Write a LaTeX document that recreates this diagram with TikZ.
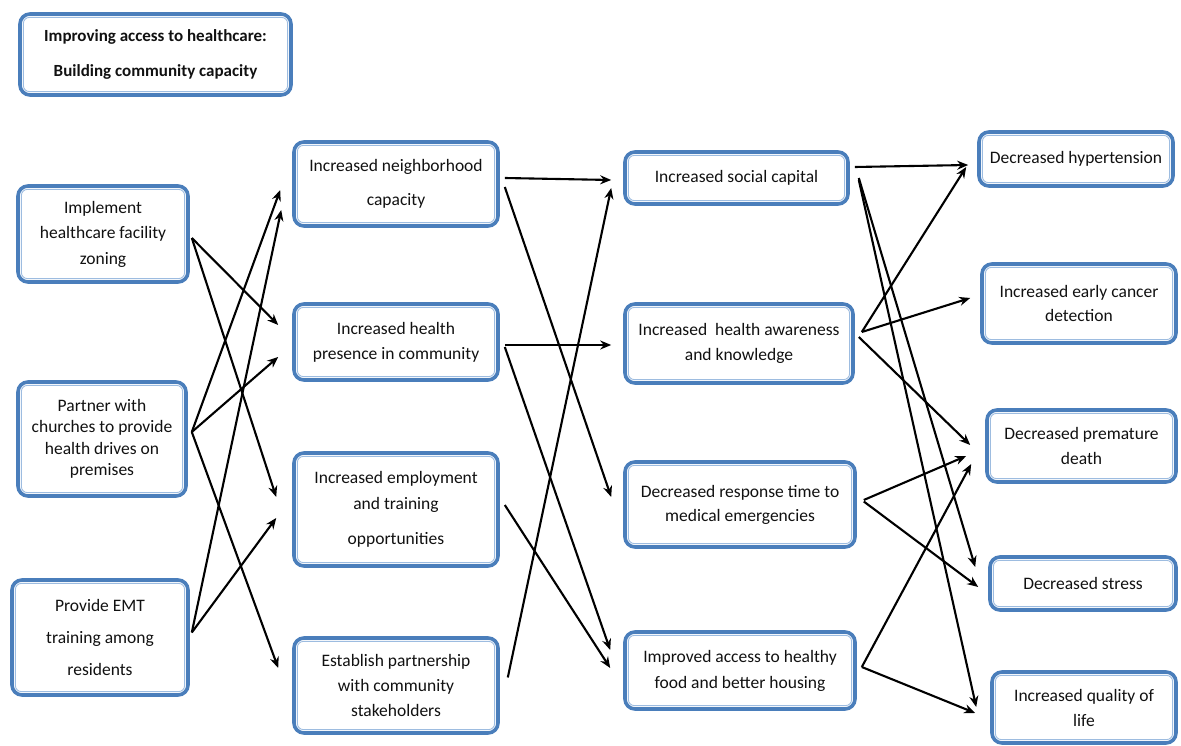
\documentclass[tikz,border=0pt]{standalone}
\usepackage{fontspec}
\setmainfont{Carlito}
\usetikzlibrary{arrows.meta,calc}
\definecolor{boxblue}{HTML}{4A7EBB}
\definecolor{innerblue}{HTML}{9DBCE0}
\definecolor{inktext}{HTML}{111111}
\tikzset{
  box/.style={draw=boxblue, line width=3.6pt, fill=white, rounded corners=10pt,
    align=center, text=inktext, inner sep=0pt,
    font=\fontsize{17.5}{25}\selectfont,
    path picture={\draw[innerblue, line width=0.9pt, rounded corners=6pt]
      ([shift={(3.4pt,3.4pt)}]path picture bounding box.south west) rectangle
      ([shift={(-3.4pt,-3.4pt)}]path picture bounding box.north east);}},
  arr/.style={-{Stealth[length=11pt,width=9pt]}, line width=2.1pt, black},
}
\begin{document}
\begin{tikzpicture}[x=1pt,y=-1pt]
\fill[white] (0,0) rectangle (1181,746);
\useasboundingbox (0,0) rectangle (1181,746);

% title
\node[box, minimum width=271pt, minimum height=81pt,
      font=\bfseries\fontsize{17}{35}\selectfont] (title) at (155.5,54.5)
  {Improving access to healthcare:\\Building community capacity};

% activities
\node[box, minimum width=170pt, minimum height=96pt, font=\fontsize{17.5}{25.5}\selectfont] (L1) at (103,234)
  {Implement\\healthcare facility\\zoning};
\node[box, minimum width=168pt, minimum height=114pt, font=\fontsize{17.5}{21.5}\selectfont] (L2) at (102,439)
  {Partner with\\churches to provide\\health drives on\\premises};
\node[box, minimum width=176pt, minimum height=115pt, font=\fontsize{17.5}{32}\selectfont] (L3) at (100,637.5)
  {Provide EMT\\training among\\residents};

% short-term outcomes
\node[box, minimum width=204pt, minimum height=84pt, font=\fontsize{17.5}{34}\selectfont] (M1) at (396,184)
  {Increased neighborhood\\capacity};
\node[box, minimum width=204pt, minimum height=76pt] (M2) at (396,342)
  {Increased health\\presence in community};
\node[box, minimum width=204pt, minimum height=113pt, font=\fontsize{17.5}{26}\selectfont] (M3) at (396,509.5)
  {Increased employment\\and training\\[9pt]opportunities};
\node[box, minimum width=204pt, minimum height=95pt] (M4) at (396,685.5)
  {Establish partnership\\with community\\stakeholders};

% intermediate outcomes
\node[box, minimum width=223pt, minimum height=52pt] (R1) at (736.5,178)
  {Increased social capital};
\node[box, minimum width=228pt, minimum height=79pt] (R2) at (739,343.5)
  {Increased\ \ health awareness\\and knowledge};
\node[box, minimum width=230pt, minimum height=85pt, font=\fontsize{17.5}{24}\selectfont] (R3) at (740,504.5)
  {Decreased response time to\\medical emergencies};
\node[box, minimum width=230pt, minimum height=77pt, font=\fontsize{17.5}{26}\selectfont] (R4) at (740,670.5)
  {Improved access to healthy\\food and better housing};

% long-term outcomes
\node[box, minimum width=194pt, minimum height=54pt] (O1) at (1076,159)
  {Decreased hypertension};
\node[box, minimum width=194pt, minimum height=79pt, font=\fontsize{17.5}{24}\selectfont] (O2) at (1079,303.5)
  {Increased early cancer\\detection};
\node[box, minimum width=189pt, minimum height=72pt] (O3) at (1081.5,446)
  {Decreased premature\\death};
\node[box, minimum width=186pt, minimum height=53pt] (O4) at (1083,583.5)
  {Decreased stress};
\node[box, minimum width=184pt, minimum height=71pt] (O5) at (1084,707.5)
  {Increased quality of\\life};

% activities -> short-term outcomes
\draw[arr] ($(L1.east)+(2,4)$) -- ($(M2.west)+(-14,-17)$);
\draw[arr] ($(L1.east)+(2,4)$) -- ($(M3.west)+(-16,-12.5)$);
\draw[arr] ($(L2.east)+(4,-7)$) -- ($(M1.west)+(-12,6)$);
\draw[arr] ($(L2.east)+(4,-7)$) -- ($(M2.west)+(-14,15)$);
\draw[arr] ($(L2.east)+(4,-7)$) -- ($(M4.west)+(-14,-17.5)$);
\draw[arr] ($(L3.east)+(2,-5)$) -- ($(M1.west)+(-11,26)$);
\draw[arr] ($(L3.east)+(2,-5)$) -- ($(M3.west)+(-16,8.5)$);

% short-term -> intermediate
\draw[arr] ($(M1.east)+(5,-6)$) -- ($(R1.west)+(-12,2)$);
\draw[arr] ($(M1.east)+(5,3)$) -- ($(R3.west)+(-12,-7.5)$);
\draw[arr] ($(M2.east)+(5,3)$) -- ($(R2.west)+(-12,1.5)$);
\draw[arr] ($(M2.east)+(5,5)$) -- ($(R4.west)+(-13,-20.5)$);
\draw[arr] ($(M3.east)+(5,-4.5)$) -- ($(R4.west)+(-13,-2.5)$);
\draw[arr] ($(M4.east)+(8,-8)$) -- ($(R1.west)+(-12,10)$);

% intermediate -> long-term
\draw[arr] ($(R1.east)+(5,-11)$) -- ($(O1.west)+(-9,6)$);
\draw[arr] ($(R1.east)+(9,0)$) -- ($(O4.west)+(-13,-16.5)$);
\draw[arr] ($(R1.east)+(9,2)$) -- ($(O5.west)+(-14,-0.5)$);
\draw[arr] ($(R2.east)+(7,-11.5)$) -- ($(O1.west)+(-11,8)$);
\draw[arr] ($(R2.east)+(7,-11.5)$) -- ($(O2.west)+(-10,-5.5)$);
\draw[arr] ($(R2.east)+(4,-6.5)$) -- ($(O3.west)+(-15,-1)$);
\draw[arr] ($(R3.east)+(7,-4.5)$) -- ($(O3.west)+(-19,10)$);
\draw[arr] ($(R3.east)+(7,-3)$) -- ($(O4.west)+(-10,3.5)$);
\draw[arr] ($(R4.east)+(5,-3.5)$) -- ($(O3.west)+(-14,18)$);
\draw[arr] ($(R4.east)+(5,-3.5)$) -- ($(O5.west)+(-15,5.5)$);
\end{tikzpicture}
\end{document}
